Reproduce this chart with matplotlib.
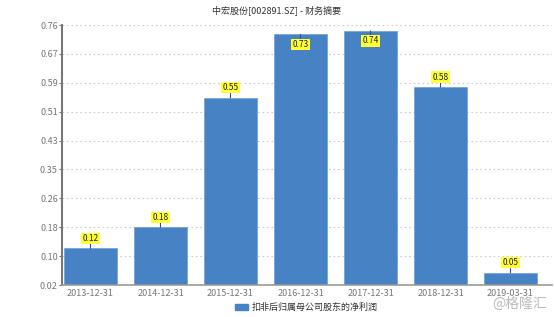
import matplotlib
matplotlib.use('Agg')
import matplotlib.pyplot as plt
import numpy as np
from matplotlib.patches import Rectangle

plt.rcParams['font.family'] = ['Noto Sans CJK SC', 'DejaVu Sans']

# data
dates = ["2013-12-31", "2014-12-31", "2015-12-31", "2016-12-31",
         "2017-12-31", "2018-12-31", "2019-03-31"]
profit = [0.124, 0.184, 0.553, 0.733, 0.743, 0.583, 0.055]
value_labels = ["0.12", "0.18", "0.55", "0.73", "0.74", "0.58", "0.05"]
ytick_labels = ["0.02", "0.10", "0.18", "0.26", "0.35", "0.43", "0.51", "0.59", "0.67", "0.76"]
series_name = "扣非后归属母公司股东的净利润"

fig = plt.figure(figsize=(5.54, 3.17), dpi=100)
ax = fig.add_axes([0.1119, 0.1009, 0.8845, 0.8202])

x = np.arange(len(dates))
bar_color = '#4682c4'
ax.bar(x, profit, width=0.76, color=bar_color, edgecolor='#6a9fd6', linewidth=0.5,
       zorder=2)

ax.set_xlim(-0.407, 6.593)
ax.set_ylim(0.02, 0.76)
ax.set_yticks(np.linspace(0.02, 0.76, 10))
ax.set_yticklabels(ytick_labels)
ax.set_xticks(x)
ax.set_xticklabels(dates)
ax.tick_params(axis='both', labelsize=6.5, colors='#777777', length=2, width=0.8)
ax.tick_params(axis='x', length=0, pad=3)
ax.tick_params(axis='y', pad=1)

ax.grid(axis='y', linestyle=(0, (1.5, 2.5)), color='#cccccc', linewidth=0.8, zorder=0)
for side in ['top', 'right']:
    ax.spines[side].set_visible(False)
ax.spines['left'].set_color('#777777')
ax.spines['left'].set_linewidth(1.5)
ax.spines['bottom'].set_color('#999999')
ax.spines['bottom'].set_linewidth(1.2)

# value labels: above the bar, or inside when the bar reaches the top
for xi, v, lab in zip(x, profit, value_labels):
    off = -10 if v > 0.7 else 10
    ax.annotate(lab, xy=(xi, v), xytext=(0, off), textcoords='offset pixels',
                ha='center', va='center', fontsize=6, color='#222222',
                bbox=dict(boxstyle='square,pad=0.15', fc='#ffff33', ec='none'),
                arrowprops=dict(arrowstyle='-', color='#3344cc', lw=0.8,
                                shrinkA=0, shrinkB=0),
                zorder=4)

fig.text(0.5, 0.968, "中宏股份[002891.SZ] - 财务摘要", ha='center', va='center',
         fontsize=6.5, color='#333333')

# legend
fig.patches.append(Rectangle((235 / 554, 1 - 310 / 317), 13 / 554, 6 / 317,
                             transform=fig.transFigure, color=bar_color))
fig.text(252 / 554, 1 - 307 / 317, series_name, ha='left', va='center',
         fontsize=6.5, color='#333333')

# watermark
fig.text(547 / 554, 1 - 304 / 317, "@格隆汇", ha='right', va='center',
         fontsize=10, color='#bbbbbb')

fig.savefig('out.png', dpi=100)
